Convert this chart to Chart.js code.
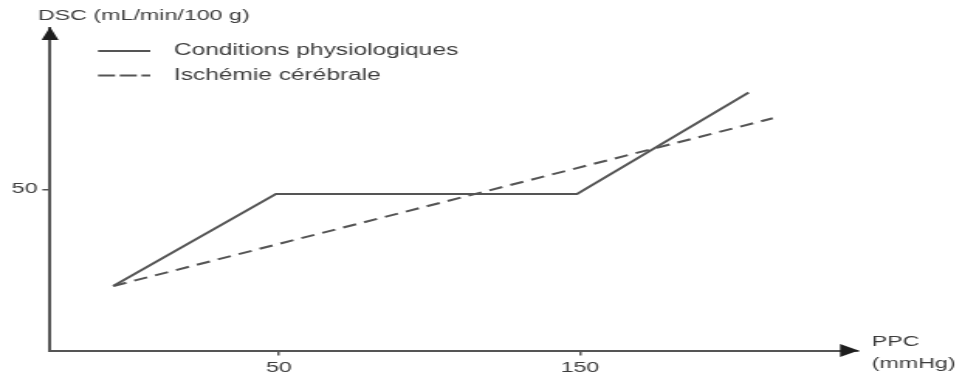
<!DOCTYPE html>
<html lang="fr">
<head>
<meta charset="utf-8">
<title>DSC et PPC</title>
<script src="https://cdn.jsdelivr.net/npm/chart.js@4.4.1/dist/chart.umd.min.js"></script>
<style>
  html, body { margin: 0; padding: 0; background: #fff; overflow: hidden; }
  /* figure is drawn narrow then widened, like the printed schema */
  #wrap { width: 623px; height: 385px; transform: scaleX(1.549); transform-origin: 0 0; }
</style>
</head>
<body>
<div id="wrap"><canvas id="autoregChart"></canvas></div>
<script>
// --- Data ---
const physioX = [-5, 49, 149, 206];
const physioY = [20, 48.5, 48.5, 80];
const ischemieX = [-5, 214];
const ischemieY = [20, 72];
const xTicks = [50, 150];
const yTicks = [50];
const seriesLabels = ['Conditions physiologiques', 'Ischémie cérébrale'];
const yTitle = 'DSC (mL/min/100 g)';
const xTitle = ['PPC', '(mmHg)'];

const FONT = '"Liberation Sans", Arial, Helvetica, sans-serif';
const INK = '#3d3d3d';
const LINE = '#555555';

const toPoints = (xs, ys) => xs.map((x, i) => ({ x, y: ys[i] }));

// arrows, axis titles and the legend
const axisDecor = {
    id: 'axisDecor',
    afterDraw(chart) {
        const { ctx, chartArea: a } = chart;
        ctx.save();
        ctx.fillStyle = '#1e1e1e';
        ctx.beginPath();
        ctx.moveTo(a.left, a.top - 1);
        ctx.lineTo(a.left - 5.5, a.top + 12);
        ctx.lineTo(a.left + 5.5, a.top + 12);
        ctx.closePath();
        ctx.fill();
        ctx.beginPath();
        ctx.moveTo(a.right + 1, a.bottom);
        ctx.lineTo(a.right - 11, a.bottom - 6.5);
        ctx.lineTo(a.right - 11, a.bottom + 6.5);
        ctx.closePath();
        ctx.fill();

        ctx.fillStyle = INK;
        ctx.font = `15px ${FONT}`;
        ctx.textAlign = 'left';
        ctx.textBaseline = 'middle';
        ctx.fillText(yTitle, 24.5, 16);
        ctx.fillText(xTitle[0], a.right + 9.5, 342);
        ctx.fillText(xTitle[1], a.right + 9.5, 364);

        // legend rows
        ctx.font = `15.8px ${FONT}`;
        const legendDash = [[], [11, 3]];
        chart.data.datasets.forEach((ds, i) => {
            const y = 51 + i * 24.5;
            ctx.strokeStyle = ds.borderColor;
            ctx.lineWidth = 2;
            ctx.setLineDash(legendDash[i]);
            ctx.beginPath();
            ctx.moveTo(63.3, y);
            ctx.lineTo(97, y);
            ctx.stroke();
            ctx.fillText(ds.label, 112.3, y);
        });
        ctx.restore();
    }
};

const axisCommon = {
    grid: { display: true, drawOnChartArea: false, drawTicks: true, tickLength: 5, color: LINE, lineWidth: 1.5 },
    border: { display: true, color: LINE, width: 2 },
    ticks: { color: INK, font: { family: FONT, size: 15 } }
};

new Chart(document.getElementById('autoregChart'), {
    type: 'line',
    data: {
        datasets: [
            { label: seriesLabels[0], data: toPoints(physioX, physioY), borderColor: LINE, borderWidth: 2, pointRadius: 0, tension: 0 },
            { label: seriesLabels[1], data: toPoints(ischemieX, ischemieY), borderColor: LINE, borderWidth: 2, borderDash: [9, 5.5], pointRadius: 0, tension: 0 }
        ]
    },
    options: {
        responsive: true,
        maintainAspectRatio: false,
        animation: false,
        layout: { padding: { top: 28, right: 69.7, left: 0, bottom: 0 } },
        plugins: { legend: { display: false }, title: { display: false }, tooltip: { enabled: false } },
        scales: {
            x: {
                ...axisCommon,
                type: 'linear',
                min: -26,
                max: 242,
                ticks: { ...axisCommon.ticks, padding: 3 },
                afterBuildTicks: s => { s.ticks = xTicks.map(v => ({ value: v })); },
                afterFit: s => { s.height = 34.5; }
            },
            y: {
                ...axisCommon,
                type: 'linear',
                min: 0,
                max: 100,
                ticks: { ...axisCommon.ticks, padding: 3 },
                afterBuildTicks: s => { s.ticks = yTicks.map(v => ({ value: v })); },
                afterFit: s => { s.width = 32.3; }
            }
        }
    },
    plugins: [axisDecor]
});
</script>
</body>
</html>
